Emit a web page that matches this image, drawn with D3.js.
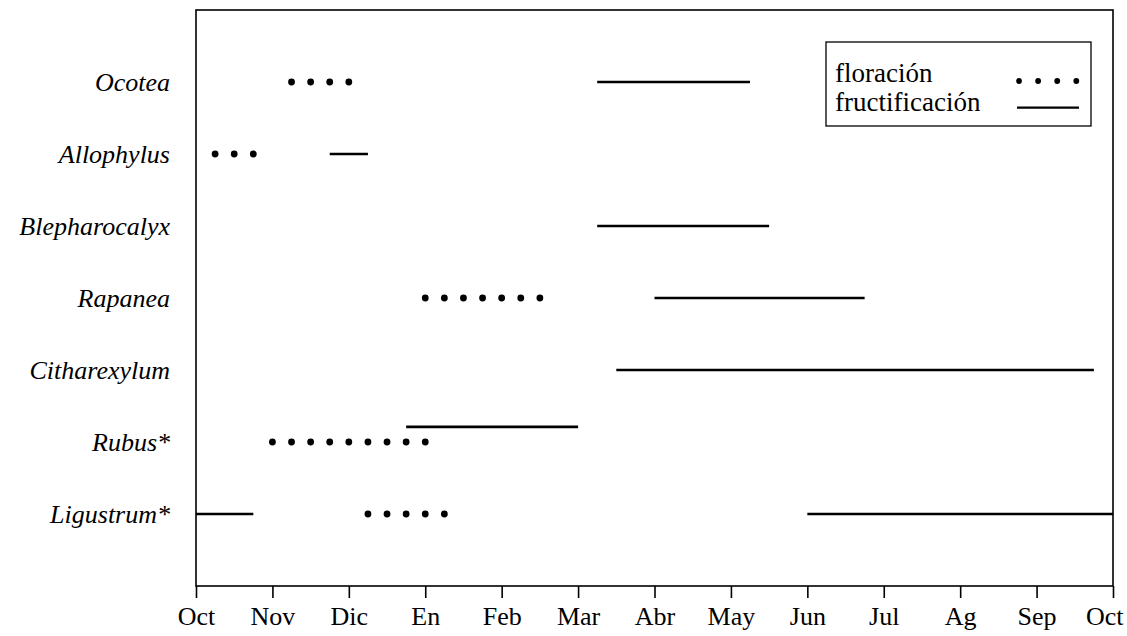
<!DOCTYPE html>
<html>
<head>
<meta charset="utf-8">
<script src="https://cdn.jsdelivr.net/npm/d3@7"></script>
<style>
  html, body { margin: 0; padding: 0; background: #fff; overflow: hidden; }
  svg { display: block; }
  text { font-family: "Liberation Serif", "Times New Roman", serif; fill: #000; }
</style>
</head>
<body>
<div id="chart"></div>
<script>
// Phenology chart: floración (dots) / fructificación (lines)

const species = ["Ocotea", "Allophylus", "Blepharocalyx", "Rapanea", "Citharexylum", "Rubus*", "Ligustrum*"];
const monthLabels = ["Oct", "Nov", "Dic", "En", "Feb", "Mar", "Abr", "May", "Jun", "Jul", "Ag", "Sep", "Oct"];

// flowering weeks (months since 1 Oct), one dot per week
const floracion = {
    "Ocotea": [1.25, 1.5, 1.75, 2.0],
    "Allophylus": [0.25, 0.5, 0.75],
    "Blepharocalyx": [],
    "Rapanea": [3.0, 3.25, 3.5, 3.75, 4.0, 4.25, 4.5],
    "Citharexylum": [],
    "Rubus*": [1.0, 1.25, 1.5, 1.75, 2.0, 2.25, 2.5, 2.75, 3.0],
    "Ligustrum*": [2.25, 2.5, 2.75, 3.0, 3.25]
};

// fruiting periods [start, end] (months since 1 Oct)
const fructificacion = {
    "Ocotea": [[5.25, 7.25]],
    "Allophylus": [[1.75, 2.25]],
    "Blepharocalyx": [[5.25, 7.5]],
    "Rapanea": [[6.0, 8.75]],
    "Citharexylum": [[5.5, 11.75]],
    "Rubus*": [[2.75, 5.0]],
    "Ligustrum*": [[0, 0.75], [8.0, 12.0]]
};

const legendDots = [0, 0.25, 0.5, 0.75];

const width = 1127;
const height = 636;
const margin = { top: 10, right: 14, bottom: 50, left: 196 };
const innerWidth = width - margin.left - margin.right;
const innerHeight = height - margin.top - margin.bottom;

const svg = d3.select("#chart")
    .append("svg")
    .attr("width", width)
    .attr("height", height)
    .append("g")
    .attr("transform", "translate(" + margin.left + "," + margin.top + ")");

const x = d3.scaleLinear()
    .domain([0, 12])
    .range([0, innerWidth]);

// rows at 1..7 inside a 0..8 domain
const y = d3.scaleLinear()
    .domain([0, species.length + 1])
    .range([0, innerHeight]);

const rowY = name => y(species.indexOf(name) + 1);

// frame
svg.append("rect")
    .attr("x", 0)
    .attr("y", 0)
    .attr("width", innerWidth)
    .attr("height", innerHeight)
    .attr("fill", "none")
    .attr("stroke", "#000")
    .attr("stroke-width", 1.6);

// x axis
const xAxis = d3.axisBottom(x)
    .tickValues(d3.range(monthLabels.length))
    .tickFormat(i => monthLabels[i])
    .tickSize(12);

const xg = svg.append("g")
    .attr("transform", "translate(0," + innerHeight + ")")
    .attr("font-family", null)
    .attr("font-size", null)
    .call(xAxis);
xg.select(".domain").remove();
xg.selectAll(".tick line").attr("stroke", "#000").attr("stroke-width", 1.6);
xg.selectAll(".tick text")
    .attr("y", 39)
    .attr("dy", null)
    .style("font-family", "'Liberation Serif', 'Times New Roman', serif")
    .style("font-size", "26px")
    .attr("fill", "#000");
// last "Oct" is pulled inside the page
xg.selectAll(".tick text")
    .filter((d, i) => i === monthLabels.length - 1)
    .attr("text-anchor", "end")
    .attr("x", 10);

// species labels
svg.selectAll(".species-label")
    .data(species)
    .enter()
    .append("text")
    .attr("class", "species-label")
    .attr("x", -26)
    .attr("y", d => rowY(d) + 8.5)
    .style("text-anchor", "end")
    .style("font-style", "italic")
    .style("font-size", "26px")
    .text(d => d);

// fruiting lines; lift the line when it overlaps the flowering dots
const fruitRows = [];
species.forEach(name => {
    const flw = floracion[name];
    fructificacion[name].forEach(p => {
        const overlaps = flw.length > 0 && p[0] <= d3.max(flw) && p[1] >= d3.min(flw);
        fruitRows.push({ name: name, start: p[0], end: p[1], shift: overlaps ? -0.21 : 0 });
    });
});

svg.selectAll(".fruit")
    .data(fruitRows)
    .enter()
    .append("line")
    .attr("class", "fruit")
    .attr("x1", d => x(d.start))
    .attr("x2", d => x(d.end))
    .attr("y1", d => y(species.indexOf(d.name) + 1 + d.shift))
    .attr("y2", d => y(species.indexOf(d.name) + 1 + d.shift))
    .attr("stroke", "#000")
    .attr("stroke-width", 2.6);

// flowering dots
const flowerDots = [];
species.forEach(name => {
    floracion[name].forEach(m => flowerDots.push({ name: name, m: m }));
});

svg.selectAll(".flower")
    .data(flowerDots)
    .enter()
    .append("circle")
    .attr("class", "flower")
    .attr("cx", d => x(d.m))
    .attr("cy", d => rowY(d.name))
    .attr("r", 3.4)
    .attr("fill", "#000");

// legend
const legend = svg.append("g")
    .attr("transform", "translate(630,32)");

legend.append("rect")
    .attr("x", 0)
    .attr("y", 0)
    .attr("width", 265)
    .attr("height", 84)
    .attr("fill", "#fff")
    .attr("stroke", "#000")
    .attr("stroke-width", 1.3);

legend.append("text")
    .attr("x", 9)
    .attr("y", 40)
    .style("font-size", "27px")
    .text("floración");

legend.append("text")
    .attr("x", 9)
    .attr("y", 69)
    .style("font-size", "27px")
    .text("fructificación");

legend.selectAll(".legend-dot")
    .data(legendDots)
    .enter()
    .append("circle")
    .attr("class", "legend-dot")
    .attr("cx", d => 193 + x(d))
    .attr("cy", 39)
    .attr("r", 2.9)
    .attr("fill", "#000");

legend.append("line")
    .attr("x1", 191)
    .attr("x2", 253)
    .attr("y1", 65.7)
    .attr("y2", 65.7)
    .attr("stroke", "#000")
    .attr("stroke-width", 2.2);
</script>
</body>
</html>
